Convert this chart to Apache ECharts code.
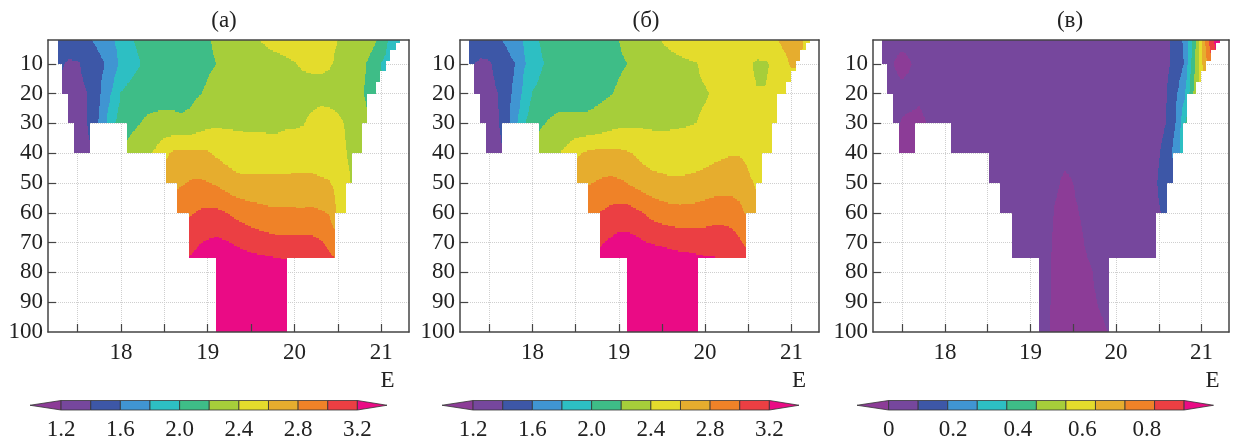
<!DOCTYPE html>
<html>
<head>
<meta charset="utf-8">
<script src="https://cdn.jsdelivr.net/npm/echarts@6/dist/echarts.min.js"></script>
<style>
  html, body { margin: 0; padding: 0; background: #fff; }
  #main { width: 1236px; height: 443px; }
</style>
</head>
<body>
<div id="main"></div>
<script>
const _ = null;

// station longitudes (E) and depth levels (m) of the grids
const LONS = [17.2, 17.3, 17.4, 17.5, 17.6, 17.7, 17.8, 17.9, 18.0, 18.1,
  18.2, 18.3, 18.4, 18.5, 18.6, 18.7, 18.8, 18.9, 19.0, 19.1,
  19.2, 19.3, 19.4, 19.5, 19.6, 19.7, 19.8, 19.9, 20.0, 20.1,
  20.2, 20.3, 20.4, 20.5, 20.6, 20.7, 20.8, 20.9, 21.0, 21.1,
  21.2, 21.3];
const DEPTHS = [2, 10, 20, 30, 40, 50, 60, 70, 80, 100];

// stepped bottom of the section: water between BOTTOM_LON[k] and BOTTOM_LON[k+1] down to BOTTOM_DEPTH[k]
const BOTTOM_LON = [17.27, 17.326, 17.395, 17.46, 17.646, 18.073, 18.52, 18.646, 18.78, 19.10,
  19.915, 20.472, 20.595, 20.664, 20.78, 20.837, 20.933, 20.99, 21.048, 21.106, 21.164, 21.222];
const BOTTOM_DEPTH = [10, 20, 30, 40, 30, 40, 50, 60, 75, 100,
  75, 60, 50, 40, 30, 20, 15.8, 12.4, 9, 5.7, 3];

// panel (а): one row per depth level, one value per longitude
const FIELD_A = [
  [1.5, 1.5, 1.5, 1.52, 1.56, 1.63, 1.7, 1.78, 1.87, 1.96,
   2.04, 2.08, 2.1, 2.1, 2.12, 2.13, 2.15, 2.17, 2.19, 2.22,
   2.26, 2.3, 2.34, 2.37, 2.4, 2.44, 2.47, 2.5, 2.52, 2.52,
   2.5, 2.47, 2.44, 2.4, 2.36, 2.32, 2.28, 2.24, 2.17, 1.95,
   1.9, 1.9],
  [1.42, 1.42, 1.38, 1.38, 1.45, 1.5, 1.59, 1.7, 1.84, 1.92,
   1.98, 2.05, 2.08, 2.1, 2.12, 2.13, 2.14, 2.16, 2.18, 2.2,
   2.23, 2.26, 2.28, 2.3, 2.31, 2.33, 2.34, 2.36, 2.39, 2.43,
   2.44, 2.44, 2.42, 2.37, 2.3, 2.26, 2.22, 2.15, 1.99, 1.92,
   1.9, _],
  [1.36, 1.36, 1.36, 1.36, 1.39, 1.5, 1.66, 1.82, 2.01, 2.06,
   2.1, 2.12, 2.13, 2.14, 2.15, 2.16, 2.165, 2.19, 2.22, 2.25,
   2.28, 2.3, 2.3, 2.3, 2.3, 2.3, 2.3, 2.3, 2.3, 2.31,
   2.32, 2.33, 2.32, 2.3, 2.28, 2.24, 2.2, 2.12, 2.05, _,
   _, _],
  [_, 1.36, 1.36, 1.35, 1.38, 1.52, 1.72, 1.96, 2.08, 2.14,
   2.19, 2.23, 2.25, 2.25, 2.24, 2.22, 2.24, 2.3, 2.35, 2.37,
   2.37, 2.37, 2.37, 2.37, 2.37, 2.37, 2.37, 2.38, 2.38, 2.39,
   2.45, 2.5, 2.5, 2.45, 2.38, 2.3, 2.25, 2.2, _, _,
   _, _],
  [_, 1.36, 1.36, 1.34, 1.36, 1.4, _, _, 2.2, 2.28,
   2.32, 2.37, 2.43, 2.55, 2.63, 2.65, 2.65, 2.64, 2.62, 2.57,
   2.53, 2.5, 2.48, 2.47, 2.47, 2.46, 2.46, 2.47, 2.48, 2.5,
   2.52, 2.53, 2.52, 2.47, 2.4, 2.32, 2.28, _, _, _,
   _, _],
  [_, _, _, _, _, _, _, _, _, _,
   _, 2.55, 2.62, 2.72, 2.75, 2.78, 2.82, 2.83, 2.81, 2.78,
   2.72, 2.67, 2.65, 2.66, 2.66, 2.66, 2.66, 2.66, 2.66, 2.65,
   2.64, 2.62, 2.61, 2.55, 2.45, 2.35, _, _, _, _,
   _, _],
  [_, _, _, _, _, _, _, _, _, _,
   _, _, _, 2.85, 2.9, 2.95, 2.98, 3.02, 3.04, 3.04,
   3.01, 2.96, 2.92, 2.88, 2.86, 2.84, 2.83, 2.83, 2.83, 2.83,
   2.84, 2.82, 2.79, 2.55, 2.45, _, _, _, _, _,
   _, _],
  [_, _, _, _, _, _, _, _, _, _,
   _, _, _, _, 3.08, 3.1, 3.15, 3.19, 3.22, 3.24,
   3.22, 3.19, 3.16, 3.13, 3.1, 3.08, 3.06, 3.05, 3.05, 3.05,
   3.05, 3.02, 2.96, 2.9, _, _, _, _, _, _,
   _, _],
  [_, _, _, _, _, _, _, _, _, _,
   _, _, _, _, 3.2, 3.24, 3.27, 3.3, 3.32, 3.34,
   3.35, 3.35, 3.35, 3.35, 3.35, 3.35, 3.34, 3.32, 3.28, 3.24,
   3.2, 3.15, 3.1, 3.05, _, _, _, _, _, _,
   _, _],
  [_, _, _, _, _, _, _, _, _, _,
   _, _, _, _, _, _, _, 3.35, 3.35, 3.35,
   3.35, 3.35, 3.35, 3.35, 3.35, 3.35, 3.35, 3.35, 3.35, 3.35,
   _, _, _, _, _, _, _, _, _, _,
   _, _]
];

// panel (б)
const FIELD_B = [
  [1.58, 1.55, 1.5, 1.52, 1.57, 1.64, 1.73, 1.81, 1.94, 2.02,
   2.07, 2.1, 2.11, 2.12, 2.13, 2.14, 2.16, 2.18, 2.2, 2.24,
   2.28, 2.32, 2.36, 2.41, 2.45, 2.48, 2.5, 2.52, 2.53, 2.54,
   2.54, 2.54, 2.54, 2.55, 2.56, 2.57, 2.58, 2.63, 2.66, 2.63,
   2.55, 2.55],
  [1.42, 1.41, 1.37, 1.38, 1.45, 1.52, 1.6, 1.78, 1.88, 1.98,
   2.04, 2.07, 2.09, 2.1, 2.12, 2.13, 2.14, 2.16, 2.18, 2.2,
   2.24, 2.27, 2.3, 2.32, 2.34, 2.36, 2.38, 2.395, 2.43, 2.47,
   2.5, 2.5, 2.47, 2.43, 2.37, 2.37, 2.45, 2.55, 2.62, 2.6,
   2.55, _],
  [1.36, 1.36, 1.36, 1.36, 1.4, 1.52, 1.66, 1.85, 2.01, 2.06,
   2.1, 2.12, 2.13, 2.14, 2.15, 2.16, 2.165, 2.19, 2.22, 2.25,
   2.28, 2.31, 2.33, 2.35, 2.36, 2.37, 2.38, 2.38, 2.39, 2.41,
   2.43, 2.45, 2.45, 2.44, 2.41, 2.41, 2.46, 2.5, 2.5, _,
   _, _],
  [_, 1.36, 1.36, 1.35, 1.38, 1.53, 1.74, 1.98, 2.1, 2.18,
   2.22, 2.25, 2.25, 2.24, 2.23, 2.24, 2.28, 2.32, 2.35, 2.36,
   2.37, 2.37, 2.37, 2.37, 2.38, 2.385, 2.39, 2.4, 2.42, 2.46,
   2.5, 2.52, 2.52, 2.5, 2.47, 2.45, 2.45, _, _, _,
   _, _],
  [_, 1.36, 1.36, 1.34, 1.36, 1.4, _, _, 2.25, 2.3,
   2.35, 2.39, 2.45, 2.56, 2.62, 2.65, 2.65, 2.65, 2.64, 2.62,
   2.58, 2.53, 2.5, 2.48, 2.47, 2.47, 2.48, 2.5, 2.52, 2.55,
   2.57, 2.59, 2.59, 2.56, 2.5, 2.47, 2.45, _, _, _,
   _, _],
  [_, _, _, _, _, _, _, _, _, _,
   _, 2.6, 2.65, 2.75, 2.78, 2.8, 2.83, 2.85, 2.83, 2.8,
   2.74, 2.7, 2.67, 2.66, 2.64, 2.64, 2.65, 2.66, 2.68, 2.7,
   2.71, 2.72, 2.7, 2.63, 2.58, 2.5, _, _, _, _,
   _, _],
  [_, _, _, _, _, _, _, _, _, _,
   _, _, _, 2.9, 2.95, 2.98, 3.01, 3.05, 3.08, 3.08,
   3.04, 2.99, 2.93, 2.89, 2.87, 2.86, 2.86, 2.87, 2.89, 2.91,
   2.91, 2.9, 2.86, 2.75, 2.62, _, _, _, _, _,
   _, _],
  [_, _, _, _, _, _, _, _, _, _,
   _, _, _, _, 3.12, 3.15, 3.19, 3.23, 3.27, 3.27,
   3.25, 3.21, 3.19, 3.18, 3.16, 3.14, 3.13, 3.12, 3.12, 3.13,
   3.13, 3.1, 3.03, 2.95, _, _, _, _, _, _,
   _, _],
  [_, _, _, _, _, _, _, _, _, _,
   _, _, _, _, 3.25, 3.28, 3.3, 3.32, 3.34, 3.35,
   3.35, 3.35, 3.35, 3.35, 3.35, 3.35, 3.35, 3.33, 3.3, 3.28,
   3.25, 3.2, 3.15, 3.1, _, _, _, _, _, _,
   _, _],
  [_, _, _, _, _, _, _, _, _, _,
   _, _, _, _, _, _, _, 3.35, 3.35, 3.35,
   3.35, 3.35, 3.35, 3.35, 3.35, 3.35, 3.35, 3.35, 3.35, 3.35,
   _, _, _, _, _, _, _, _, _, _,
   _, _]
];

// panel (в)
const FIELD_C = [
  [0.045, 0.045, 0.045, 0.045, 0.045, 0.045, 0.045, 0.045, 0.045, 0.045,
   0.045, 0.045, 0.045, 0.045, 0.045, 0.045, 0.045, 0.045, 0.045, 0.045,
   0.045, 0.045, 0.045, 0.045, 0.045, 0.045, 0.045, 0.045, 0.045, 0.045,
   0.045, 0.045, 0.045, 0.05, 0.08, 0.13, 0.2, 0.38, 0.64, 0.85,
   1.0, 1.0],
  [0.045, 0.045, 0.0, -0.05, -0.005, 0.045, 0.045, 0.045, 0.045, 0.045,
   0.045, 0.045, 0.045, 0.045, 0.045, 0.045, 0.045, 0.045, 0.045, 0.045,
   0.045, 0.045, 0.045, 0.045, 0.045, 0.045, 0.045, 0.045, 0.045, 0.045,
   0.045, 0.045, 0.045, 0.05, 0.08, 0.12, 0.19, 0.41, 0.62, 0.8,
   0.9, _],
  [0.045, 0.045, 0.045, 0.045, 0.045, 0.02, 0.045, 0.045, 0.045, 0.045,
   0.045, 0.045, 0.045, 0.045, 0.045, 0.045, 0.045, 0.045, 0.045, 0.045,
   0.045, 0.045, 0.045, 0.045, 0.045, 0.045, 0.045, 0.045, 0.045, 0.045,
   0.045, 0.045, 0.045, 0.06, 0.095, 0.17, 0.26, 0.45, 0.6, _,
   _, _],
  [_, 0.045, 0.03, -0.01, -0.03, -0.03, 0.005, 0.045, 0.045, 0.045,
   0.045, 0.045, 0.045, 0.045, 0.045, 0.045, 0.045, 0.045, 0.045, 0.045,
   0.045, 0.045, 0.045, 0.045, 0.045, 0.045, 0.045, 0.045, 0.045, 0.045,
   0.045, 0.045, 0.045, 0.05, 0.1, 0.19, 0.35, 0.5, _, _,
   _, _],
  [_, 0.0, -0.02, -0.03, -0.03, -0.02, _, _, 0.045, 0.045,
   0.045, 0.045, 0.045, 0.045, 0.045, 0.045, 0.045, 0.045, 0.045, 0.045,
   0.045, 0.045, 0.045, 0.045, 0.045, 0.045, 0.045, 0.045, 0.045, 0.045,
   0.045, 0.045, 0.05, 0.085, 0.15, 0.22, 0.33, _, _, _,
   _, _],
  [_, _, _, _, _, _, _, _, _, _,
   _, 0.045, 0.045, 0.045, 0.045, 0.045, 0.045, 0.045, 0.045, 0.045,
   0.045, 0.02, -0.03, 0.0, 0.04, 0.045, 0.045, 0.045, 0.045, 0.045,
   0.045, 0.045, 0.06, 0.1, 0.13, 0.15, _, _, _, _,
   _, _],
  [_, _, _, _, _, _, _, _, _, _,
   _, _, _, 0.045, 0.045, 0.045, 0.045, 0.045, 0.045, 0.045,
   0.045, -0.02, -0.03, -0.02, 0.01, 0.045, 0.045, 0.045, 0.045, 0.045,
   0.045, 0.045, 0.05, 0.085, 0.12, _, _, _, _, _,
   _, _],
  [_, _, _, _, _, _, _, _, _, _,
   _, _, _, _, 0.045, 0.045, 0.045, 0.045, 0.045, 0.045,
   0.03, -0.03, -0.03, -0.03, -0.01, 0.03, 0.045, 0.045, 0.045, 0.045,
   0.045, 0.045, 0.04, 0.06, _, _, _, _, _, _,
   _, _],
  [_, _, _, _, _, _, _, _, _, _,
   _, _, _, _, 0.045, 0.045, 0.045, 0.045, 0.045, 0.04,
   0.02, -0.03, -0.03, -0.03, -0.03, -0.01, 0.03, 0.045, 0.045, 0.045,
   0.045, 0.045, 0.04, 0.04, _, _, _, _, _, _,
   _, _],
  [_, _, _, _, _, _, _, _, _, _,
   _, _, _, _, _, _, _, 0.045, 0.045, 0.04,
   0.01, -0.03, -0.03, -0.03, -0.03, -0.03, -0.02, 0.0, 0.03, 0.04,
   _, _, _, _, _, _, _, _, _, _,
   _, _]
];

// contour levels and colours: [below first level, 10 bands, above last level]
const LEVELS_AB = [1.2, 1.4, 1.6, 1.8, 2.0, 2.2, 2.4, 2.6, 2.8, 3.0, 3.2];
const LEVELS_C = [0, 0.0915, 0.183, 0.2745, 0.366, 0.4575, 0.549, 0.6405, 0.732, 0.8235, 0.915];
const COLORS = ['#8c3c97', '#76479d', '#3d57a7', '#4095d2', '#2dbfc3', '#3ebd87',
  '#a6ce3a', '#e4dc2c', '#e6ad2e', '#ef8228', '#eb3f43', '#ea0b85'];

const TITLES = ['(а)', '(б)', '(в)'];
const X_TICKS = [17.5, 18, 18.5, 19, 19.5, 20, 20.5, 21];
const X_LABELS = [18, 19, 20, 21];
const Y_GRID = [10, 20, 30, 40, 50, 60, 70, 80, 90];
const Y_LABELS = [10, 20, 30, 40, 50, 60, 70, 80, 90, 100];
const CB_LABELS_AB = [1.2, 1.6, 2.0, 2.4, 2.8, 3.2];
const CB_LABELS_C = [0, 0.2, 0.4, 0.6, 0.8];
const CB_RANGE_AB = [0.99, 3.40];
const CB_RANGE_C = [-0.098, 1.006];

[FIELD_A, FIELD_B, FIELD_C].forEach((f, n) => {
  if (f.length !== DEPTHS.length) throw new Error('field ' + n + ' has ' + f.length + ' rows');
  f.forEach((row, j) => {
    if (row.length !== LONS.length) throw new Error('field ' + n + ' row ' + j + ' has ' + row.length);
  });
});

const FONT = '"Liberation Serif", "Times New Roman", serif';
const INK = '#222';
const FRAME = '#444';

const PANELS = [
  { field: FIELD_A, levels: LEVELS_AB, left: 48, width: 361, titleX: 224, eX: 387.5,
    cb: { left: 30, width: 357, range: CB_RANGE_AB, labels: CB_LABELS_AB } },
  { field: FIELD_B, levels: LEVELS_AB, left: 460, width: 359, titleX: 646, eX: 799,
    cb: { left: 442, width: 357, range: CB_RANGE_AB, labels: CB_LABELS_AB } },
  { field: FIELD_C, levels: LEVELS_C, left: 873, width: 356, titleX: 1070, eX: 1212.5,
    cb: { left: 857, width: 356.5, range: CB_RANGE_C, labels: CB_LABELS_C } }
];
const X_MIN = 17.16, X_MAX = 21.32;
const Y_MIN = 2, Y_MAX = 100;

function bottomAt(lon) {
  for (let k = 0; k < BOTTOM_DEPTH.length; k++) {
    if (lon >= BOTTOM_LON[k] && lon < BOTTOM_LON[k + 1]) return BOTTOM_DEPTH[k];
  }
  return -1;
}

function levelIndex(v, levels) {
  for (let k = 0; k < levels.length; k++) {
    if (v < levels[k]) return k;
  }
  return levels.length;
}

// bilinear value inside a grid cell, ignoring missing corners
function cellValue(c, s, t) {
  const w = [(1 - s) * (1 - t), s * (1 - t), (1 - s) * t, s * t];
  let sum = 0, ws = 0;
  for (let k = 0; k < 4; k++) {
    if (c[k] !== null) { sum += w[k] * c[k]; ws += w[k]; }
  }
  return ws > 1e-9 ? sum / ws : null;
}

function bandRect(api, lon0, lon1, d0, d1, color) {
  const p0 = api.coord([lon0, d0]);
  const p1 = api.coord([lon1, d1]);
  const x0 = Math.round(Math.min(p0[0], p1[0])), x1 = Math.round(Math.max(p0[0], p1[0]));
  const y0 = Math.round(Math.min(p0[1], p1[1])), y1 = Math.round(Math.max(p0[1], p1[1]));
  return { type: 'rect', shape: { x: x0, y: y0, width: x1 - x0, height: y1 - y0 }, style: { fill: color } };
}

function fieldRenderer(field, levels) {
  return function (params, api) {
    const i = api.value(2), j = api.value(3);
    const c = [field[j][i], field[j][i + 1], field[j + 1][i], field[j + 1][i + 1]];
    if (c.every(v => v === null)) return null;
    const lonA = LONS[i], lonB = LONS[i + 1], dA = DEPTHS[j], dB = DEPTHS[j + 1];
    const nx = 20, ny = Math.round((dB - dA) * 2);
    const children = [];
    for (let r = 0; r < ny; r++) {
      const t = (r + 0.5) / ny;
      const dTop = dA + (dB - dA) * r / ny;
      const dBot = dA + (dB - dA) * (r + 1) / ny;
      const dMid = dA + (dB - dA) * t;
      let start = 0, cur = -1;
      for (let k = 0; k <= nx; k++) {
        let lev = -1;
        if (k < nx) {
          const s = (k + 0.5) / nx;
          const lon = lonA + (lonB - lonA) * s;
          if (dMid < bottomAt(lon)) {
            const v = cellValue(c, s, t);
            if (v !== null) lev = levelIndex(v, levels);
          }
        }
        if (lev !== cur) {
          if (cur >= 0) {
            children.push(bandRect(api, lonA + (lonB - lonA) * start / nx,
              lonA + (lonB - lonA) * k / nx, dTop, dBot, COLORS[cur]));
          }
          start = k;
          cur = lev;
        }
      }
    }
    return { type: 'group', children: children };
  };
}

function colorbarRenderer(params, api) {
  const a = api.value(0), b = api.value(1), ci = api.value(2);
  const p0 = api.coord([a, 0]);
  const p1 = api.coord([b, 1]);
  const top = Math.min(p0[1], p1[1]), bot = Math.max(p0[1], p1[1]), mid = (top + bot) / 2;
  const style = { fill: COLORS[ci], stroke: '#333', lineWidth: 0.8 };
  if (ci === 0) {
    return { type: 'polygon', shape: { points: [[p0[0], mid], [p1[0], top], [p1[0], bot]] }, style: style };
  }
  if (ci === COLORS.length - 1) {
    return { type: 'polygon', shape: { points: [[p0[0], top], [p1[0], mid], [p0[0], bot]] }, style: style };
  }
  return { type: 'rect', shape: { x: p0[0], y: top, width: p1[0] - p0[0], height: bot - top }, style: style };
}

const cells = [];
for (let j = 0; j < DEPTHS.length - 1; j++) {
  for (let i = 0; i < LONS.length - 1; i++) {
    cells.push([(LONS[i] + LONS[i + 1]) / 2, (DEPTHS[j] + DEPTHS[j + 1]) / 2, i, j]);
  }
}

const grid = [], xAxis = [], yAxis = [], series = [], graphic = [];
const labelStyle = { fontFamily: FONT, fontSize: 23, color: INK };

PANELS.forEach((p, n) => {
  grid.push({ left: p.left, top: 40, width: p.width, height: 292 });
  const g = n;
  const base = { type: 'value', gridIndex: g, min: X_MIN, max: X_MAX };
  // dotted grid lines (under the fill)
  xAxis.push(Object.assign({}, base, {
    position: 'bottom', axisLine: { show: false }, axisLabel: { show: false },
    axisTick: { show: false, customValues: X_TICKS },
    splitLine: { show: true, lineStyle: { color: '#cfcfcf', type: 'dotted', width: 1 } }
  }));
  // frame bottom with ticks and labels
  xAxis.push(Object.assign({}, base, {
    position: 'bottom', z: 10,
    axisLine: { show: true, onZero: false, lineStyle: { color: FRAME, width: 1.5 } },
    axisTick: { show: true, inside: true, length: 8, customValues: X_TICKS, lineStyle: { color: FRAME, width: 1.2 } },
    axisLabel: Object.assign({ show: true, margin: 9, customValues: X_LABELS }, labelStyle),
    splitLine: { show: false }
  }));
  // frame top
  xAxis.push(Object.assign({}, base, {
    position: 'top', z: 10,
    axisLine: { show: true, onZero: false, lineStyle: { color: FRAME, width: 1.5 } },
    axisTick: { show: false }, axisLabel: { show: false }, splitLine: { show: false }
  }));
  const ybase = { type: 'value', gridIndex: g, min: Y_MIN, max: Y_MAX, inverse: true };
  yAxis.push(Object.assign({}, ybase, {
    position: 'left', axisLine: { show: false }, axisLabel: { show: false },
    axisTick: { show: false, customValues: Y_GRID },
    splitLine: { show: true, lineStyle: { color: '#cfcfcf', type: 'dotted', width: 1 } }
  }));
  yAxis.push(Object.assign({}, ybase, {
    position: 'left', z: 10,
    axisLine: { show: true, onZero: false, lineStyle: { color: FRAME, width: 1.5 } },
    axisTick: { show: true, inside: true, length: 8, customValues: Y_GRID, lineStyle: { color: FRAME, width: 1.2 } },
    axisLabel: Object.assign({ show: true, margin: 5, customValues: Y_LABELS }, labelStyle),
    splitLine: { show: false }
  }));
  yAxis.push(Object.assign({}, ybase, {
    position: 'right', z: 10,
    axisLine: { show: true, onZero: false, lineStyle: { color: FRAME, width: 1.5 } },
    axisTick: { show: false }, axisLabel: { show: false }, splitLine: { show: false }
  }));
  series.push({
    type: 'custom', coordinateSystem: 'cartesian2d', xAxisIndex: 3 * n, yAxisIndex: 3 * n,
    clip: true, silent: true, z: 2,
    renderItem: fieldRenderer(p.field, p.levels),
    data: cells
  });

  graphic.push({
    type: 'text', x: p.titleX, y: 21, silent: true,
    style: { text: TITLES[n], font: '23px ' + FONT, fill: INK,
      align: 'center', verticalAlign: 'middle', textAlign: 'center', textVerticalAlign: 'middle' }
  });
  graphic.push({
    type: 'text', x: p.eX, y: 381, silent: true,
    style: { text: 'E', font: '23px ' + FONT, fill: INK,
      align: 'center', verticalAlign: 'middle', textAlign: 'center', textVerticalAlign: 'middle' }
  });
});

PANELS.forEach((p, n) => {
  const g = 3 + n;
  grid.push({ left: p.cb.left, top: 400.5, width: p.cb.width, height: 9.5 });
  xAxis.push({
    type: 'value', gridIndex: g, min: p.cb.range[0], max: p.cb.range[1],
    axisLine: { show: false }, axisTick: { show: false }, splitLine: { show: false },
    axisLabel: Object.assign({
      show: true, margin: 8, customValues: p.cb.labels,
      formatter: v => (v === 0 ? '0' : Number(v).toFixed(1))
    }, labelStyle)
  });
  yAxis.push({ type: 'value', gridIndex: g, min: 0, max: 1, show: false });
  const lv = p.levels;
  const items = [[p.cb.range[0], lv[0], 0]];
  for (let k = 0; k < lv.length - 1; k++) items.push([lv[k], lv[k + 1], k + 1]);
  items.push([lv[lv.length - 1], p.cb.range[1], COLORS.length - 1]);
  series.push({
    type: 'custom', coordinateSystem: 'cartesian2d', xAxisIndex: 9 + n, yAxisIndex: 3 * 3 + n,
    silent: true, renderItem: colorbarRenderer, data: items
  });
});

const chart = echarts.init(document.getElementById('main'), null, { renderer: 'canvas' });
chart.setOption({
  animation: false,
  backgroundColor: '#fff',
  grid: grid,
  xAxis: xAxis,
  yAxis: yAxis,
  series: series,
  graphic: graphic
});
</script>
</body>
</html>
